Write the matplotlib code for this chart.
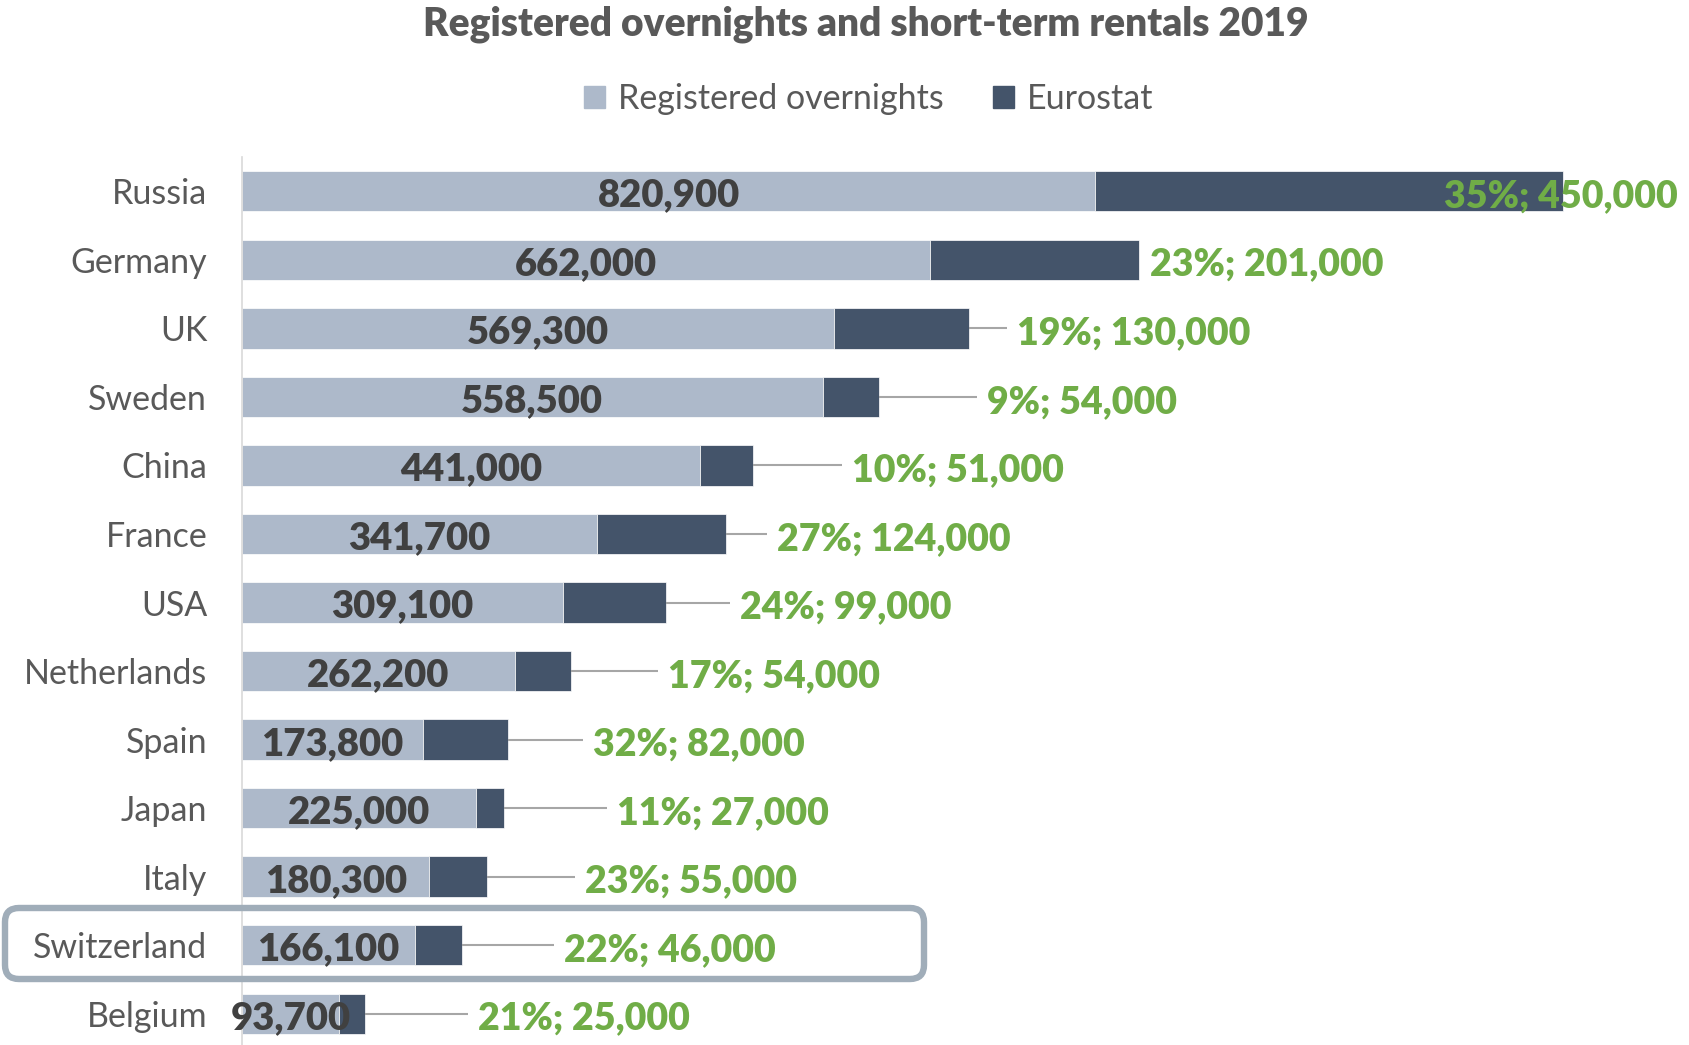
import matplotlib
matplotlib.use("Agg")
import matplotlib.pyplot as plt
from matplotlib.patches import FancyBboxPatch, Patch
from matplotlib.transforms import IdentityTransform, ScaledTranslation

# ---- data ----
countries = ["Russia", "Germany", "UK", "Sweden", "China", "France", "USA",
             "Netherlands", "Spain", "Japan", "Italy", "Switzerland", "Belgium"]
registered = [820900, 662000, 569300, 558500, 441000, 341700, 309100,
              262200, 173800, 225000, 180300, 166100, 93700]
eurostat = [450000, 201000, 130000, 54000, 51000, 124000, 99000,
            54000, 82000, 27000, 55000, 46000, 25000]
share_pct = [35, 23, 19, 9, 10, 27, 24, 17, 32, 11, 23, 22, 21]
series_names = ["Registered overnights", "Eurostat"]
title = "Registered overnights and short-term rentals 2019"

# ---- layout (pixel gaps from bar end to the green label) ----
label_gap_px = [-119, 11, 48, 108, 99, 51, 74, 97, 85, 113, 98, 102, 113]
highlight = "Switzerland"

LIGHT = "#ADB9CA"
DARK = "#44546A"
GREEN = "#70AD47"
GRAY_TXT = "#595959"
VAL_TXT = "#404040"
FONT = "Lato"
HEAVY = 800

W, H = 1690, 1045
fig = plt.figure(figsize=(W / 100, H / 100), dpi=100)
ax_left, ax_right, ax_top, ax_bot = 242, 1690, 157, 1048
ax = fig.add_axes([ax_left / W, (H - ax_bot) / H,
                   (ax_right - ax_left) / W, (ax_bot - ax_top) / H])

xmax = 1393100
ax.set_xlim(0, xmax)
ax.set_ylim(len(countries) - 0.5, -0.5)
px_per_unit = (ax_right - ax_left) / xmax

ypos = list(range(len(countries)))
ax.barh(ypos, registered, height=0.59, color=LIGHT, edgecolor="white", linewidth=0.5)
ax.barh(ypos, eurostat, left=registered, height=0.59, color=DARK, edgecolor="white", linewidth=0.5)

for i, (r, e, p, g) in enumerate(zip(registered, eurostat, share_pct, label_gap_px)):
    ax.text(r / 2, i + 0.06, f"{r:,}", ha="center", va="center", fontsize=27.5,
            fontweight=HEAVY, color=VAL_TXT, family=FONT)
    total = r + e
    if g > 30:
        ax.plot([total, total + (g - 10) / px_per_unit], [i, i], color="#A6A6A6",
                lw=1.5, zorder=1, solid_capstyle="butt")
    tr = ax.transData + ScaledTranslation(g / 100, 0, fig.dpi_scale_trans)
    ax.text(total, i + 0.07, f"{p}%; {e:,}", ha="left", va="center", fontsize=27,
            fontweight=HEAVY, color=GREEN, family=FONT, transform=tr, clip_on=False)

ax.set_yticks(ypos)
ax.set_yticklabels(countries, fontsize=24.5, color=GRAY_TXT, family=FONT)
ax.tick_params(axis="y", length=0, pad=25)
ax.set_xticks([])
for s in ["top", "right", "bottom"]:
    ax.spines[s].set_visible(False)
ax.spines["left"].set_color("#D9D9D9")
ax.spines["left"].set_linewidth(1.2)

fig.text(866 / W, 1 - 24 / H, title, ha="center", va="center", fontsize=28,
         fontweight=HEAVY, color=GRAY_TXT, family=FONT)

handles = [Patch(color=LIGHT), Patch(color=DARK)]
fig.legend(handles, series_names, loc="center", bbox_to_anchor=(869 / W, 1 - 99 / H),
           ncol=2, frameon=False, prop={"family": FONT, "size": 24.5},
           labelcolor=GRAY_TXT, handlelength=0.6, handleheight=0.6,
           handletextpad=0.4, columnspacing=1.45)

# highlight box around Switzerland
hi = countries.index(highlight)
box = FancyBboxPatch((5, H - 979), 919, 71, boxstyle="round,pad=0,rounding_size=14",
                     transform=IdentityTransform(), fill=False, edgecolor="#A0ADB9",
                     linewidth=4.6, zorder=5)
fig.add_artist(box)

fig.savefig("out.png", dpi=100)
